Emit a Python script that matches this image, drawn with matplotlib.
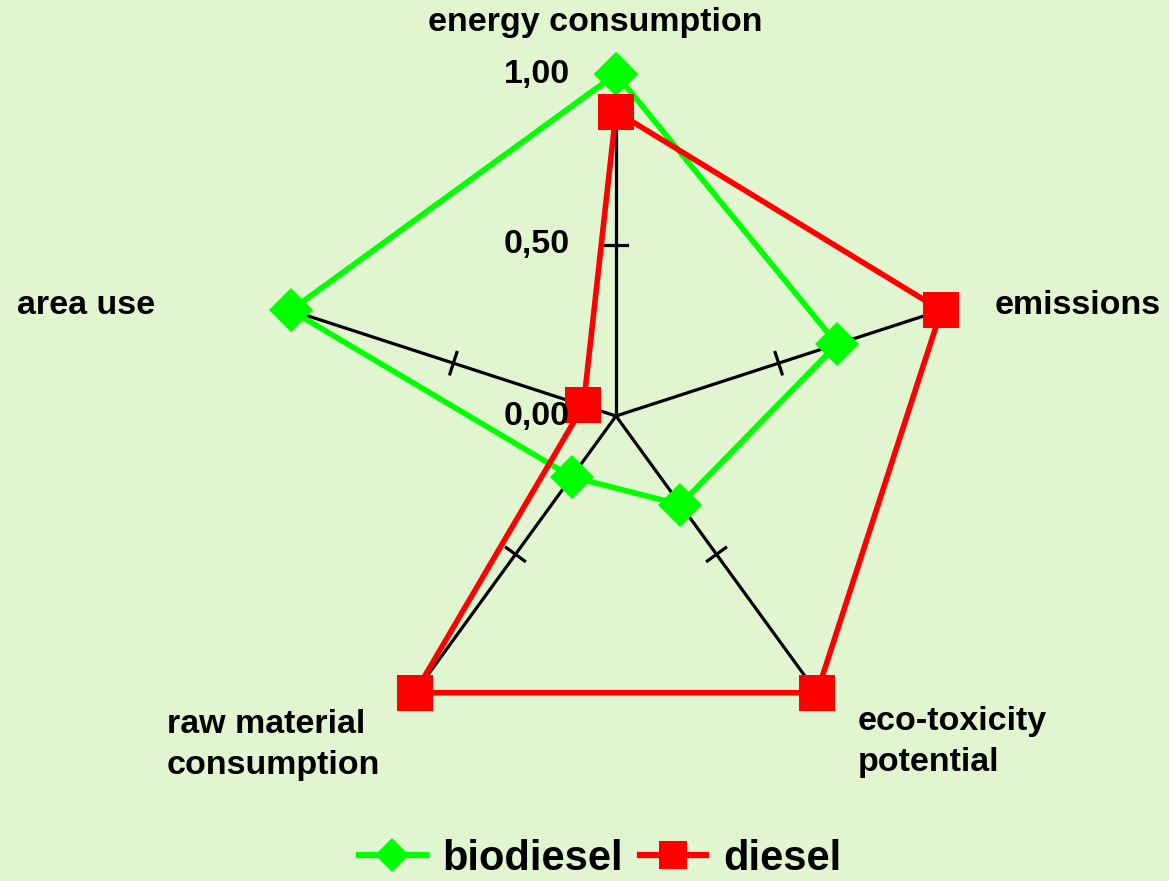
import numpy as np
import matplotlib
matplotlib.use("Agg")
import matplotlib.pyplot as plt
from matplotlib.lines import Line2D

plt.rcParams['font.family'] = ['Liberation Sans', 'DejaVu Sans']
plt.rcParams['font.weight'] = 'bold'

categories = ["energy consumption", "emissions", "eco-toxicity\npotential",
              "raw material\nconsumption", "area use"]
biodiesel = [1.00, 0.68, 0.32, 0.22, 1.00]
diesel = [0.89, 1.00, 1.00, 1.00, 0.10]
r_ticks = [0.0, 0.5, 1.0]
r_tick_labels = ["0,00", "0,50", "1,00"]

W, H = 1169, 881
bg = "#e1f5d0"
fig = plt.figure(figsize=(W / 100, H / 100), dpi=100, facecolor=bg)

# polar axes centred on the pentagon centre, r=1 -> 342 px
cx, cy, R = 616, 416, 342
ax = fig.add_axes([(cx - R) / W, (H - cy - R) / H, 2 * R / W, 2 * R / H],
                  projection="polar")
ax.set_theta_offset(np.pi / 2)
ax.set_theta_direction(-1)
ax.set_ylim(0, 1)
ax.axis("off")

n = len(categories)
theta = np.arange(n) * 2 * np.pi / n

# axis spokes and tick marks at 0.5
tick_half = 0.033
for t in theta:
    ax.plot([t, t], [0, 1], color="black", lw=2.3, zorder=1, clip_on=False)
    rr = np.hypot(0.5, tick_half)
    dt = np.arctan2(tick_half, 0.5)
    ax.plot([t - dt, t + dt], [rr, rr], color="black", lw=2.3, zorder=1)

th = np.append(theta, theta[0])
ax.plot(th, biodiesel + biodiesel[:1], color="#00ff00", lw=4, marker="D",
        markersize=22, markeredgewidth=0, zorder=3, clip_on=False)
ax.plot(th, diesel + diesel[:1], color="#ff0000", lw=4, marker="s",
        markersize=26.5, markeredgewidth=0, zorder=4, clip_on=False)

fs = 24.5
def ft(x, y, s, **kw):
    fig.text(x / W, 1 - y / H, s, fontsize=fs, fontweight="bold", **kw)

# radial tick labels along the top axis
for r, lab in zip(r_ticks, r_tick_labels):
    ft(570, cy - r * R, lab, ha="right", va="center")

# category labels
ft(595, 22, categories[0], ha="center", va="center")
ft(995, 305, categories[1], ha="left", va="center")
ft(858, 742, categories[2], ha="left", va="center", linespacing=1.45)
ft(167, 745, categories[3], ha="left", va="center", linespacing=1.45)
ft(17, 305, categories[4], ha="left", va="center")

handles = [
    Line2D([], [], color="#00ff00", lw=4.5, marker="D", markersize=17, markeredgewidth=0),
    Line2D([], [], color="#ff0000", lw=4.5, marker="s", markersize=20, markeredgewidth=0),
]
fig.legend(handles, ["biodiesel", "diesel"], loc="center", ncol=2,
           bbox_to_anchor=(600 / W, 1 - 859 / H), frameon=False,
           prop={"size": 30, "weight": "bold"}, handlelength=1.6,
           handletextpad=0.4, columnspacing=0.4, borderpad=0, borderaxespad=0)

fig.savefig("out.png", dpi=100, facecolor=bg)
